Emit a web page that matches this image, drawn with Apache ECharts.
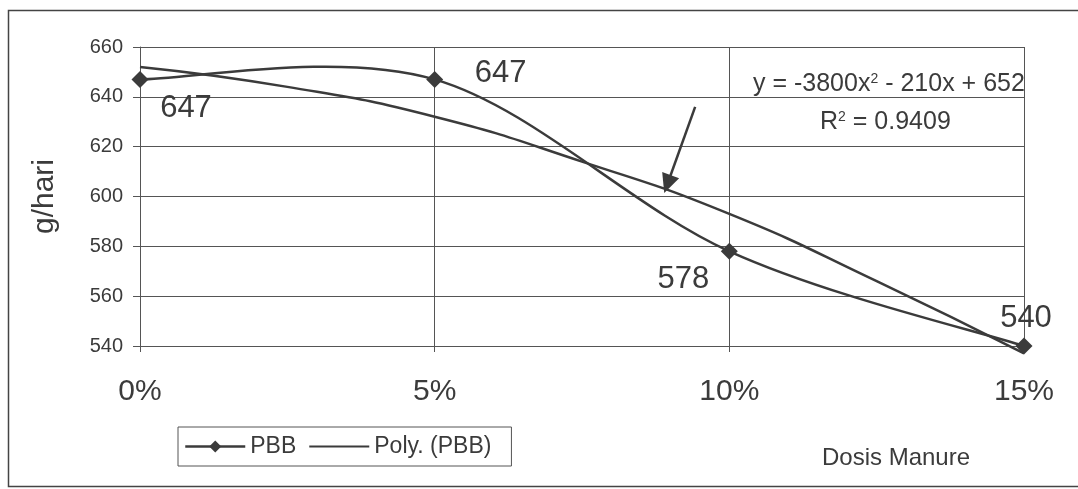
<!DOCTYPE html>
<html>
<head>
<meta charset="utf-8">
<script src="https://cdn.jsdelivr.net/npm/echarts@6/dist/echarts.min.js"></script>
<style>
  html, body { margin: 0; padding: 0; background: #ffffff; }
  #chart { width: 1078px; height: 489px; }
</style>
</head>
<body>
<div id="chart"></div>
<script>
// Manure dose (fraction) and daily weight gain of PBB (g/hari)
var doses = [0, 0.05, 0.10, 0.15];
var pbbValues = [647, 647, 578, 540];

// Quadratic trend line of PBB, sampled along the dose axis
var polyDoses = [0, 0.025, 0.05, 0.075, 0.10, 0.125, 0.15];
var polyValues = [652, 644, 632, 614, 593, 566, 537];

// Axis ticks
var yTicks = [540, 560, 580, 600, 620, 640, 660];
var xTickLabels = ['0%', '5%', '10%', '15%'];

var equationText = 'y = -3800x{sup|2} - 210x + 652';
var r2Text = 'R{sup|2} = 0.9409';

var ink = '#3b3b3b';
var font = 'Liberation Sans, Arial, sans-serif';

// per-point label placement around the markers
var labelOffsets = [[46, 29], [66, -6], [-46, 28], [2, -28]];

var chart = echarts.init(document.getElementById('chart'));

var pbbData = doses.map(function (d, i) {
  return { value: [d, pbbValues[i]], label: { offset: labelOffsets[i] } };
});
var pbbPoints = doses.map(function (d, i) { return [d, pbbValues[i]]; });
var polyData = polyDoses.map(function (d, i) { return [d, polyValues[i]]; });

// Smoothed PBB curve: one cubic Bezier per segment, control points taken
// from the neighbouring points (tension 1/6), in pixel space via api.coord.
function renderSmoothSegment(params, api) {
  var i = params.dataIndex;
  var n = pbbPoints.length;
  if (i >= n - 1) { return null; }
  var p = function (k) {
    k = Math.max(0, Math.min(n - 1, k));
    return api.coord(pbbPoints[k]);
  };
  var p0 = p(i - 1), p1 = p(i), p2 = p(i + 1), p3 = p(i + 2);
  return {
    type: 'bezierCurve',
    shape: {
      x1: p1[0], y1: p1[1],
      x2: p2[0], y2: p2[1],
      cpx1: p1[0] + (p2[0] - p0[0]) / 6,
      cpy1: p1[1] + (p2[1] - p0[1]) / 6,
      cpx2: p2[0] - (p3[0] - p1[0]) / 6,
      cpy2: p2[1] - (p3[1] - p1[1]) / 6
    },
    style: { stroke: ink, lineWidth: 2.5, fill: 'none' },
    silent: true
  };
}

var supStyle = { fontSize: 14, verticalAlign: 'top', padding: [0, 0, 11, 0], fill: ink };

var option = {
  backgroundColor: '#ffffff',
  animation: false,
  textStyle: { fontFamily: font, color: ink },
  grid: { left: 140, right: 54, top: 47, bottom: 143 },
  legend: {
    left: 178, top: 427,
    orient: 'horizontal',
    padding: [8, 20, 8, 6],
    itemGap: 12,
    itemWidth: 60,
    itemHeight: 15,
    itemTextGap: 3,
    borderColor: '#555',
    borderWidth: 1,
    textStyle: { fontFamily: font, fontSize: 23, color: ink },
    data: [
      { name: 'PBB', lineStyle: { opacity: 1, color: ink, width: 2.5 } },
      { name: 'Poly. (PBB)', itemStyle: { opacity: 0 } }
    ]
  },
  xAxis: {
    type: 'value',
    min: 0, max: 0.15, interval: 0.05,
    axisLine: { show: true, onZero: false, lineStyle: { color: '#555', width: 1 } },
    axisTick: { show: true, length: 6, lineStyle: { color: '#555' } },
    splitLine: { show: true, lineStyle: { color: '#555', width: 1 } },
    axisLabel: {
      margin: 31,
      fontSize: 30,
      color: ink,
      fontFamily: font,
      formatter: function (v) {
        var idx = Math.round(v / 0.05);
        return xTickLabels[idx] !== undefined ? xTickLabels[idx] : '';
      }
    }
  },
  yAxis: {
    type: 'value',
    min: yTicks[0], max: yTicks[yTicks.length - 1], interval: 20,
    name: 'g/hari',
    nameLocation: 'middle',
    nameGap: 80,
    nameTextStyle: { fontSize: 30, color: ink, fontFamily: font },
    axisLine: { show: true, lineStyle: { color: '#555', width: 1 } },
    axisTick: { show: true, length: 7, lineStyle: { color: '#555' } },
    splitLine: { show: true, lineStyle: { color: '#555', width: 1 } },
    axisLabel: { margin: 17, fontSize: 20, color: ink, fontFamily: font }
  },
  series: [
    {
      name: 'Poly. (PBB)',
      type: 'line',
      data: polyData,
      smooth: true,
      showSymbol: false,
      symbol: 'none',
      clip: false,
      lineStyle: { color: ink, width: 2.5 },
      itemStyle: { color: ink },
      z: 2,
      markLine: {
        silent: true,
        symbol: ['none', 'triangle'],
        symbolSize: [18, 19],
        label: { show: false },
        lineStyle: { color: ink, width: 2.5, type: 'solid' },
        data: [[{ coord: [0.0942, 636] }, { coord: [0.0895, 605] }]]
      }
    },
    {
      name: 'PBB curve',
      type: 'custom',
      data: pbbPoints,
      renderItem: renderSmoothSegment,
      clip: false,
      z: 3
    },
    {
      name: 'PBB',
      type: 'line',
      data: pbbData,
      symbol: 'diamond',
      symbolSize: 17,
      clip: false,
      lineStyle: { color: ink, width: 2.5, opacity: 0 },
      itemStyle: { color: ink },
      z: 4,
      label: {
        show: true,
        position: 'inside',
        fontSize: 31,
        color: ink,
        fontFamily: font,
        formatter: function (p) { return p.value[1]; }
      }
    }
  ],
  graphic: [
    {
      type: 'rect',
      shape: { x: 8.5, y: 10.5, width: 1100, height: 476 },
      style: { fill: 'none', stroke: '#444', lineWidth: 1.5 },
      silent: true,
      z: -1
    },
    {
      type: 'text',
      left: 753, top: 72,
      style: { text: equationText, font: '25px ' + font, fill: ink, rich: { sup: supStyle } }
    },
    {
      type: 'text',
      left: 820, top: 110,
      style: { text: r2Text, font: '25px ' + font, fill: ink, rich: { sup: supStyle } }
    },
    {
      type: 'text',
      left: 822, top: 446,
      style: { text: 'Dosis Manure', font: '24px ' + font, fill: ink }
    }
  ]
};

chart.setOption(option);
</script>
</body>
</html>
